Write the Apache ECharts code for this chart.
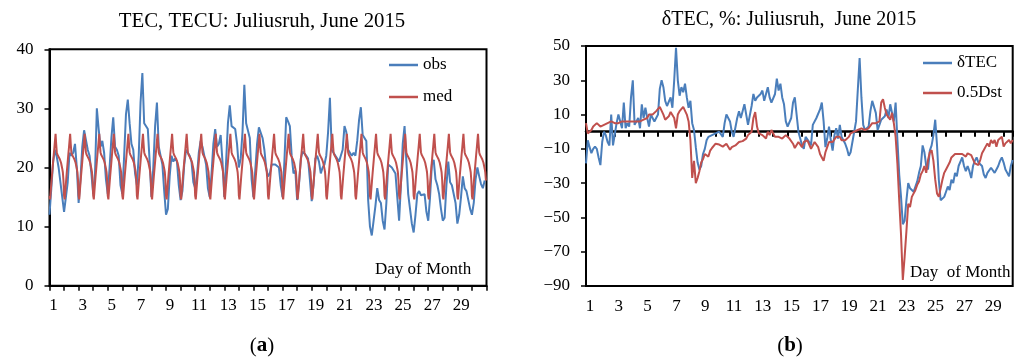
<!DOCTYPE html>
<html>
<head>
<meta charset="utf-8">
<script src="https://cdn.jsdelivr.net/npm/echarts@6/dist/echarts.min.js"></script>
<style>
  html, body { margin: 0; padding: 0; background: #fff; }
  #chart { width: 1017px; height: 361px; }
</style>
</head>
<body>
<div id="chart"></div>
<script>
// Day labels shown under both panels (odd days only)
const dayLabels = ['1','3','5','7','9','11','13','15','17','19','21','23','25','27','29'];
const tecTicks = [0, 10, 20, 30, 40];
const dTecTicks = [-90, -70, -50, -30, -10, 10, 30, 50];

// Monthly median TEC, hourly profile (UT 0..23), TECU
const medProfile = [15.2, 14.6, 16.0, 17.3, 18.6, 19.8, 21.0, 22.2, 23.3, 24.5, 25.7, 24.0,
                    22.6, 22.2, 22.0, 21.8, 21.6, 21.4, 21.2, 20.8, 20.3, 19.8, 19.2, 17.8];

// Observed TEC, 3-hourly (UT 0,3,...,21), days 1..30, TECU
const obsTEC = [
  12.0, 16.5, 21.0, 23.0, 21.8, 20.0, 19.8, 15.0,
  12.5, 12.5, 17.5, 22.5, 22.0, 22.5, 24.0, 20.0,
  14.0, 18.0, 23.5, 26.3, 26.0, 23.0, 22.0, 19.0,
  15.5, 19.0, 30.0, 26.5, 23.5, 24.5, 22.5, 18.0,
  15.5, 20.0, 25.0, 28.5, 23.5, 23.0, 22.0, 17.0,
  15.5, 22.0, 29.0, 31.5, 27.5, 24.0, 23.0, 19.0,
  17.0, 22.0, 31.0, 36.0, 27.5, 27.3, 26.5, 21.0,
  15.0, 20.0, 27.0, 31.0, 23.5, 22.0, 20.5, 16.0,
  12.0, 13.0, 18.5, 22.0, 21.0, 21.5, 21.0, 17.0,
  14.5, 16.0, 20.5, 23.0, 22.5, 22.0, 21.0, 17.5,
  16.5, 18.5, 22.5, 24.5, 23.5, 22.0, 20.5, 16.5,
  15.0, 19.0, 24.0, 26.5, 23.5, 24.0, 25.5, 21.0,
  15.0, 21.0, 27.5, 30.5, 27.0, 27.0, 26.5, 24.0,
  20.0, 21.5, 26.0, 34.0, 27.5, 27.5, 25.0, 18.0,
  15.0, 19.5, 24.0, 26.8, 26.5, 25.0, 23.0, 20.0,
  18.5, 19.0, 20.5, 20.5, 20.5, 20.3, 20.0, 17.0,
  15.0, 21.0, 28.5, 27.8, 27.0, 22.0, 19.0, 19.5,
  14.5, 17.0, 21.5, 22.7, 22.5, 22.0, 21.5, 18.0,
  14.3, 17.0, 21.5, 22.0, 21.0, 19.0, 20.0, 20.5,
  22.0, 26.0, 31.8, 23.0, 22.5, 22.0, 21.5, 21.0,
  21.0, 23.0, 27.0, 26.0, 23.0, 22.5, 22.0, 22.5,
  22.0, 24.5, 28.0, 30.2, 25.5, 25.0, 24.5, 14.5,
  10.0,  8.5, 11.0, 13.5, 16.5, 14.5, 14.0, 11.0,
   9.5, 14.0, 20.5, 20.5, 20.0, 19.5, 19.0, 15.0,
  11.0, 17.0, 24.0, 27.0, 21.0, 15.5, 13.0, 10.5,
   9.0, 12.0, 15.5, 16.0, 15.3, 15.5, 15.5, 12.5,
  11.0, 15.0, 20.5, 21.3, 18.0, 17.0, 15.5, 13.0,
  11.0, 11.5, 17.0, 21.0, 17.5, 17.0, 17.0, 14.0,
  10.5, 12.0, 15.0, 18.5, 16.5, 16.0, 16.0, 13.0,
  12.0, 14.0, 18.0, 20.0, 18.5, 17.2, 16.5, 17.8
];

// Relative TEC deviation, 3-hourly, %
const dTEC = [
  -18.5, -5, -9, -12.5, -10, -8.7, -10, -15,
  -19.5, -6, 0, -2, -6, -8, 10, -8,
  -8, 5, 10, 10.5, 2, 17, 2, 5,
  3, 20, 30, 4, 4, 8, 2, 16,
  8, 14, 8, 3, 10, 11, 6, 6,
  10, 25, 30, 26, 18, 15, 15, 20,
  14, 30, 49, 30, 21, 26, 23, 28,
  20, 14, 18, 5, 1, -9, -18, -22,
  -20, -13, -10, -5, -3, -2, -2, -2,
  -1, -2, 0, -1, -3, 5, 10, 11,
  6, 0, -3, -3, 8, 12, 8, 12,
  16, 15, 4, 3, 15, 22, 18, 20,
  20, 22, 24, 18, 22, 26, 20, 17,
  18, 22, 31, 24, 28, 20, 16, 6,
  3, 2, 8, 17, 20, 10, 0, -4,
  -8, -10, -3, -4, -6, -8, 4, 3,
  8, 8, 13, 17, 6, -9, -4, 3,
  -5, -11, -2, 2, -4, 4, -3, -5,
  -7, -10, -14, -12, -13, 0, 6, 7,
  43, 20, 4, 1, 2, 3, 12, 18,
  19, 11, 1, 4, 7, 7, 9, 13,
  8, 16, 17, 6, 17, -5, -25, -38,
  -54, -52, -40, -30, -33, -33, -35, -35,
  -29, -24, -20, -8, -12, -20, -22, -11,
  -8, -2, 7, -8, -28, -40, -40, -38,
  -35, -32, -34, -28, -30, -24, -26, -20,
  -19, -15, -20, -23, -20, -23, -27, -20,
  -17, -15, -18, -17, -20, -25, -27, -24,
  -23, -21, -21, -24, -22, -20, -17, -15,
  -18, -22, -24, -26, -20, -16.5
];

// Half of the Dst index, 3-hourly, nT
const dst05 = [
  5, -1, -1, 1, 3, 2, 5, 4,
  3, 4, 4, 5, 5, 5, 6, 7,
  5, 5, 5, 6, 6, 5, 6, 6,
  6, 6, 6, 6, 6, 6, 6, 7,
  7, 7, 8, 10, 9, 10, 10, 12,
  12.5, 14.5, 14, 10, 7, 7.5, 9, 11.5,
  11, 8, 2, 10, 12, 12.7, 14.5, 15.5,
  10, 6, -5, -27, -17, -30, -27, -23,
  -18, -16, -13, -12, -14.5, -11, -9.5, -9,
  -7, -7, -7.5, -8, -8.7, -8, -7, -7,
  -10.5, -9, -9, -8, -7, -6, -6.5, -5.5,
  -5, -4, -2, -1, 0, 8, 11.5, 3,
  -1, -1, -2, -3, -4, 0, -2, 1,
  -1, -3, -4, -3, -2, -4, -3, -2,
  -2, -4, -5, -7, -9.5, -10, -6, -7,
  -9, -6, -7, -5, -6, -10, -9, -6,
  -5, -9, -13, -15, -17, -12, -9, -6,
  -5, -6, -7, -3, -4, -3, -5, -4,
  -5, -4, -3, -1, -1, 0, 0, 1,
  1, 2, 2, 1, 0, 2, 3, 5,
  6, 5, 6, 6, 17, 19, 14, 10,
  8.5, 7, 11, 5, -3, -19, -40, -60,
  -86.5, -73, -58, -42, -44, -38, -38, -34,
  -31, -29, -25, -23, -20, -24, -16.5, -12,
  -10.7, -17, -28, -36, -38, -33, -28, -24,
  -22, -21, -18, -15, -16, -13, -13.6, -13,
  -12, -13, -12.6, -14.5, -12.6, -13, -13.6, -12.6,
  -18.5, -17.5, -19.4, -16.5, -12.6, -10.7, -8.7, -6.8,
  -8.7, -4.8, -6.8, -4.8, -8.7, -4.8, -4.8, -2.9,
  -8.7, -6.8, -6, -4.8, -6.8, -4.8
];

// x = day of month + fraction of day
const threeHourly = arr => arr.map((v, i) => [1 + i * 3 / 24, v]);
const medPts = [];
for (let d = 1; d <= 30; d++) {
  medProfile.forEach((v, h) => medPts.push([d + h / 24, v]));
}

const BLUE = '#4a7ebb';
const RED = '#c0504d';
const SERIF = "'Liberation Serif', 'DejaVu Serif', serif";
const labelFont = { fontFamily: SERIF, fontSize: 17, color: '#000' };
const dayFormatter = v => (dayLabels.includes(String(v)) ? String(v) : '');

const chart = echarts.init(document.getElementById('chart'), null, { renderer: 'canvas' });

chart.setOption({
  animation: false,
  backgroundColor: '#fff',
  grid: [
    { left: 49.5, top: 49.3, width: 437, height: 236.4, show: true, borderColor: '#000', borderWidth: 2, backgroundColor: 'transparent' },
    { left: 586, top: 46, width: 426.7, height: 240, show: true, borderColor: '#000', borderWidth: 2, backgroundColor: 'transparent' }
  ],
  xAxis: [
    {
      type: 'value', gridIndex: 0, min: 1, max: 31, interval: 1,
      axisLine: { show: true, onZero: false, lineStyle: { color: '#000', width: 2 } },
      axisTick: { show: true, length: 5, lineStyle: { color: '#000', width: 1.5 } },
      axisLabel: Object.assign({ formatter: dayFormatter, margin: 11, padding: [0, 0, 0, 8], showMinLabel: true, showMaxLabel: true }, labelFont),
      splitLine: { show: false }
    },
    {
      // zero line with day ticks
      type: 'value', gridIndex: 1, min: 1, max: 30.63, interval: 1, position: 'bottom',
      axisLine: { show: true, onZero: true, lineStyle: { color: '#000', width: 2.5 } },
      axisTick: { show: true, length: 5, lineStyle: { color: '#000', width: 2 } },
      axisLabel: { show: false },
      splitLine: { show: false }
    },
    {
      // day labels along the bottom edge
      type: 'value', gridIndex: 1, min: 1, max: 30.63, interval: 1, position: 'bottom',
      axisLine: { show: false, onZero: false },
      axisTick: { show: false },
      axisLabel: Object.assign({ formatter: dayFormatter, margin: 12, padding: [0, 0, 0, 8], showMinLabel: true }, labelFont),
      splitLine: { show: false }
    }
  ],
  yAxis: [
    {
      type: 'value', gridIndex: 0, min: tecTicks[0], max: tecTicks[tecTicks.length - 1], interval: tecTicks[1] - tecTicks[0],
      axisLine: { show: true, onZero: false, lineStyle: { color: '#000', width: 2 } },
      axisTick: { show: true, length: 5, lineStyle: { color: '#000', width: 1.5 } },
      axisLabel: Object.assign({ margin: 16 }, labelFont),
      splitLine: { show: false }
    },
    {
      type: 'value', gridIndex: 1, min: dTecTicks[0], max: dTecTicks[dTecTicks.length - 1], interval: dTecTicks[1] - dTecTicks[0],
      axisLine: { show: true, onZero: false, lineStyle: { color: '#000', width: 2 } },
      axisTick: { show: true, length: 5, lineStyle: { color: '#000', width: 1.5 } },
      axisLabel: Object.assign({ margin: 16, formatter: v => String(v).replace('-', '\u2212') }, labelFont),
      splitLine: { show: false }
    }
  ],
  legend: [
    {
      data: ['obs', 'med'], orient: 'vertical', left: 384, top: 51,
      icon: 'rect', itemWidth: 29, itemHeight: 2.5, itemGap: 14,
      textStyle: { fontFamily: SERIF, fontSize: 17, color: '#000', lineHeight: 18 }
    },
    {
      data: ['δTEC', '0.5Dst'], orient: 'vertical', left: 918, top: 49,
      icon: 'rect', itemWidth: 29, itemHeight: 2.5, itemGap: 12,
      textStyle: { fontFamily: SERIF, fontSize: 17, color: '#000', lineHeight: 18 }
    }
  ],
  series: [
    { name: 'obs', type: 'line', xAxisIndex: 0, yAxisIndex: 0, data: threeHourly(obsTEC), showSymbol: false, symbol: 'none',
      lineStyle: { color: BLUE, width: 2 }, itemStyle: { color: BLUE } },
    { name: 'med', type: 'line', xAxisIndex: 0, yAxisIndex: 0, data: medPts, showSymbol: false, symbol: 'none',
      lineStyle: { color: RED, width: 2 }, itemStyle: { color: RED } },
    { name: 'δTEC', type: 'line', xAxisIndex: 1, yAxisIndex: 1, data: threeHourly(dTEC), showSymbol: false, symbol: 'none',
      lineStyle: { color: BLUE, width: 2 }, itemStyle: { color: BLUE } },
    { name: '0.5Dst', type: 'line', xAxisIndex: 1, yAxisIndex: 1, data: threeHourly(dst05), showSymbol: false, symbol: 'none',
      lineStyle: { color: RED, width: 2 }, itemStyle: { color: RED } }
  ],
  graphic: [
    { type: 'text', x: 262, y: 22, style: { text: 'TEC, TECU: Juliusruh, June 2015', font: '20.8px ' + SERIF, fill: '#000', align: 'center', verticalAlign: 'middle' } },
    { type: 'text', x: 789, y: 20, style: { text: 'δTEC, %: Juliusruh,  June 2015', font: '20px ' + SERIF, fill: '#000', align: 'center', verticalAlign: 'middle' } },
    { type: 'text', x: 375, y: 270, z: 10, style: { text: 'Day of Month', font: '17px ' + SERIF, fill: '#000', align: 'left', verticalAlign: 'middle' } },
    { type: 'text', x: 910, y: 273, z: 10, style: { text: 'Day  of Month', font: '17px ' + SERIF, fill: '#000', align: 'left', verticalAlign: 'middle' } },
    { type: 'text', x: 262, y: 346, style: { text: '{n|(}{b|a}{n|)}', align: 'center', verticalAlign: 'middle',
        rich: { n: { font: '21px ' + SERIF, fill: '#000' }, b: { font: 'bold 21px ' + SERIF, fill: '#000' } } } },
    { type: 'text', x: 790, y: 346, style: { text: '{n|(}{b|b}{n|)}', align: 'center', verticalAlign: 'middle',
        rich: { n: { font: '21px ' + SERIF, fill: '#000' }, b: { font: 'bold 21px ' + SERIF, fill: '#000' } } } }
  ]
});
</script>
</body>
</html>
